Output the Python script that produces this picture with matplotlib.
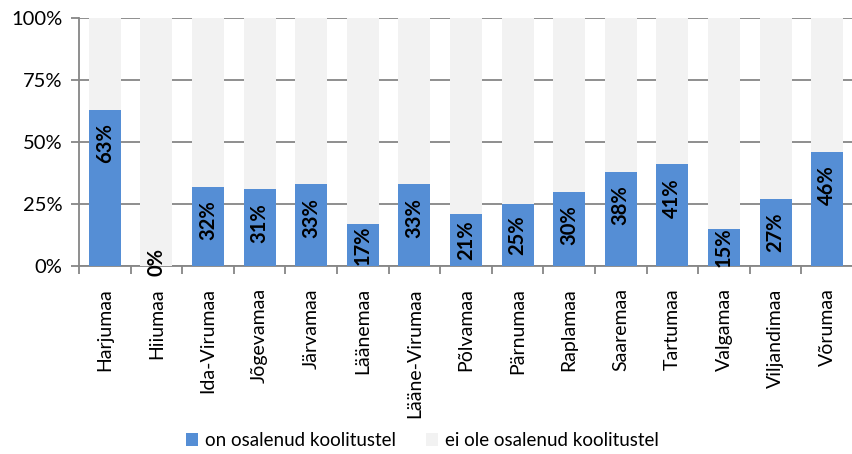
import numpy as np
import matplotlib
matplotlib.use("Agg")
import matplotlib.pyplot as plt

plt.rcParams["font.family"] = ["Lato", "DejaVu Sans"]

maakonnad = ["Harjumaa", "Hiiumaa", "Ida-Virumaa", "Jõgevamaa", "Järvamaa",
             "Läänemaa", "Lääne-Virumaa", "Põlvamaa", "Pärnumaa", "Raplamaa",
             "Saaremaa", "Tartumaa", "Valgamaa", "Viljandimaa", "Võrumaa"]
osalenud = [63, 0, 32, 31, 33, 17, 33, 21, 25, 30, 38, 41, 15, 27, 46]
ei_osalenud = [100 - v for v in osalenud]
y_ticks = [0, 25, 50, 75, 100]

sinine = "#558ED5"
hall = "#F2F2F2"
joon = "#868686"

fig = plt.figure(figsize=(8.53, 4.54), dpi=100)
ax = fig.add_axes([0.0926, 0.414, 0.9074, 0.546])

x = np.arange(len(maakonnad))
ax.bar(x, osalenud, width=0.62, color=sinine, zorder=3, label="on osalenud koolitustel")
ax.bar(x, ei_osalenud, bottom=osalenud, width=0.62, color=hall, zorder=3,
       label="ei ole osalenud koolitustel")

# andmesildid
for i, v in enumerate(osalenud):
    yc = max(v - 13.5, v / 2, 1.5)
    ax.text(i, yc, f"{v}%", rotation=90, ha="center", va="center",
            fontsize=14.5, fontweight="bold", color="black", zorder=4, clip_on=False)

ax.set_xlim(-0.5, len(maakonnad) - 0.5)
ax.set_ylim(0, 100)
ax.set_yticks(y_ticks)
ax.set_yticklabels([f"{t}%" for t in y_ticks], fontsize=14.5)
ax.yaxis.grid(True, color=joon, linewidth=1.3, zorder=0)
ax.set_axisbelow(True)

ax.set_xticks(x)
ax.set_xticklabels(maakonnad, rotation=90, ha="center", va="top", fontsize=14)
ax.set_xticks(np.arange(-0.5, len(maakonnad)), minor=True)
ax.tick_params(axis="x", which="major", length=0, pad=16)
ax.tick_params(axis="x", which="minor", length=6, color=joon, width=1.3)
ax.tick_params(axis="y", length=6, color=joon, width=1.3, pad=6)

for s in ["top", "right"]:
    ax.spines[s].set_visible(False)
for s in ["left", "bottom"]:
    ax.spines[s].set_color(joon)
    ax.spines[s].set_linewidth(1.3)

fig.legend(loc="center", bbox_to_anchor=(0.495, 0.03), ncol=2, frameon=False,
           fontsize=13.5, handlelength=0.65, handleheight=0.65, handletextpad=0.35,
           columnspacing=1.6)

fig.savefig("out.png", dpi=100)
